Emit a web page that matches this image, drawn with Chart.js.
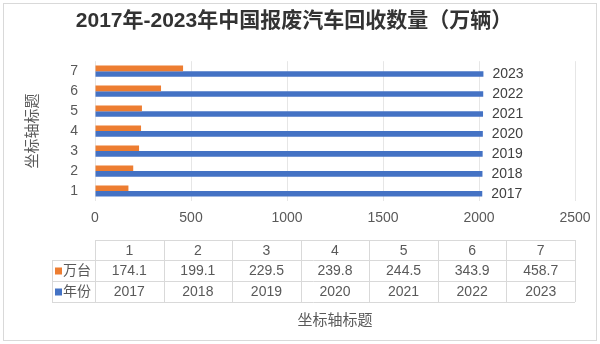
<!DOCTYPE html>
<html>
<head>
<meta charset="utf-8">
<script src="https://cdn.jsdelivr.net/npm/chart.js@4"></script>
<style>
  body { margin: 0; background: #fff; }
  canvas { display: block; }
</style>
</head>
<body>
<canvas id="scrap-chart" width="600" height="344"></canvas>
<script>
const FONT = '"Liberation Sans", "Noto Sans CJK SC", sans-serif';

// dane z wykresu
const categories = ['1', '2', '3', '4', '5', '6', '7'];
const unitsLabel = '万台';
const units = [174.1, 199.1, 229.5, 239.8, 244.5, 343.9, 458.7];
const yearsLabel = '年份';
const years = [2017, 2018, 2019, 2020, 2021, 2022, 2023];
const xTicks = [0, 500, 1000, 1500, 2000, 2500];

const ORANGE = '#ED7D31';
const BLUE = '#4472C4';
const GRID = '#d9d9d9';
const TEXT = '#595959';

// ramka wokół całego wykresu
const framePlugin = {
    id: 'frame',
    beforeDraw(chart) {
        const ctx = chart.ctx;
        ctx.save();
        ctx.fillStyle = '#fff';
        ctx.fillRect(0, 0, chart.width, chart.height);
        ctx.strokeStyle = GRID;
        ctx.lineWidth = 1;
        ctx.strokeRect(3.5, 3.5, chart.width - 7, chart.height - 7);
        ctx.restore();
    }
};

// etykiety lat na końcach niebieskich słupków
const barLabelsPlugin = {
    id: 'barLabels',
    afterDatasetsDraw(chart) {
        const ctx = chart.ctx;
        const meta = chart.getDatasetMeta(1);
        ctx.save();
        ctx.font = '14px ' + FONT;
        ctx.fillStyle = '#404040';
        ctx.textAlign = 'left';
        ctx.textBaseline = 'middle';
        meta.data.forEach((bar, i) => {
            ctx.fillText(String(chart.data.datasets[1].data[i]), bar.x + 9, bar.y);
        });
        ctx.restore();
    }
};

// tabela danych pod osią X
const dataTablePlugin = {
    id: 'dataTable',
    afterDraw(chart) {
        const ctx = chart.ctx;
        const xs = chart.scales.x;
        const left = xs.left, right = xs.right;
        const colW = (right - left) / categories.length;
        const rows = [240, 260, 281, 302];
        const labelLeft = 52;
        ctx.save();
        ctx.strokeStyle = GRID;
        ctx.lineWidth = 1;
        ctx.beginPath();
        // poziome linie
        ctx.moveTo(left, rows[0] + 0.5); ctx.lineTo(right, rows[0] + 0.5);
        for (let r = 1; r < rows.length; r++) {
            ctx.moveTo(labelLeft, rows[r] + 0.5); ctx.lineTo(right, rows[r] + 0.5);
        }
        // pionowe linie
        ctx.moveTo(labelLeft + 0.5, rows[1]); ctx.lineTo(labelLeft + 0.5, rows[3]);
        for (let c = 0; c <= categories.length; c++) {
            const x = Math.round(left + c * colW) + 0.5;
            ctx.moveTo(x, rows[0]); ctx.lineTo(x, rows[3]);
        }
        ctx.stroke();

        ctx.font = '14px ' + FONT;
        ctx.fillStyle = TEXT;
        ctx.textAlign = 'center';
        ctx.textBaseline = 'middle';
        const mid = r => (rows[r] + rows[r + 1]) / 2 + 1;
        chart.data.labels.forEach((lab, i) => {
            const cx = left + colW * (i + 0.5);
            ctx.fillText(lab, cx, mid(0));
            ctx.fillText(chart.data.datasets[0].data[i].toFixed(1), cx, mid(1));
            ctx.fillText(String(chart.data.datasets[1].data[i]), cx, mid(2));
        });
        // legenda w tabeli
        chart.data.datasets.forEach((ds, d) => {
            const y = mid(d + 1);
            ctx.fillStyle = ds.backgroundColor;
            ctx.fillRect(labelLeft + 3, y - 4, 7, 7);
            ctx.fillStyle = TEXT;
            ctx.textAlign = 'left';
            ctx.fillText(ds.label, labelLeft + 11, y);
        });
        ctx.restore();
    }
};

new Chart(document.getElementById('scrap-chart'), {
    type: 'bar',
    data: {
        labels: categories,
        datasets: [
            { label: unitsLabel, data: units, backgroundColor: ORANGE },
            { label: yearsLabel, data: years, backgroundColor: BLUE }
        ]
    },
    options: {
        indexAxis: 'y',
        responsive: false,
        animation: false,
        categoryPercentage: 0.56,
        barPercentage: 1,
        layout: { padding: { left: 13, right: 25, top: 0, bottom: 0 } },
        plugins: {
            legend: { display: false },
            tooltip: { enabled: false },
            title: {
                display: true,
                text: '2017年-2023年中国报废汽车回收数量（万辆）',
                color: '#333',
                font: { family: FONT, size: 21, weight: 'bold' },
                padding: { top: 9, bottom: 27 }
            }
        },
        scales: {
            x: {
                min: 0,
                max: 2500,
                afterBuildTicks: scale => { scale.ticks = xTicks.map(v => ({ value: v })); },
                afterFit: scale => { scale.height = 143; },
                grid: { color: '#e6e6e6', drawTicks: false },
                border: { display: false },
                ticks: {
                    color: TEXT,
                    font: { family: FONT, size: 14 },
                    padding: 9,
                    callback: v => String(v)
                },
                title: {
                    display: true,
                    text: '坐标轴标题',
                    color: TEXT,
                    font: { family: FONT, size: 15 },
                    padding: { top: 0, bottom: 14 }
                }
            },
            y: {
                reverse: true,
                afterFit: scale => { scale.width = 82; },
                grid: { display: false },
                border: { display: false },
                ticks: { color: TEXT, font: { family: FONT, size: 14 }, padding: 9 },
                title: {
                    display: true,
                    text: '坐标轴标题',
                    color: TEXT,
                    font: { family: FONT, size: 15 },
                    padding: { top: 11, bottom: 0 }
                }
            }
        }
    },
    plugins: [framePlugin, barLabelsPlugin, dataTablePlugin]
});
</script>
</body>
</html>
